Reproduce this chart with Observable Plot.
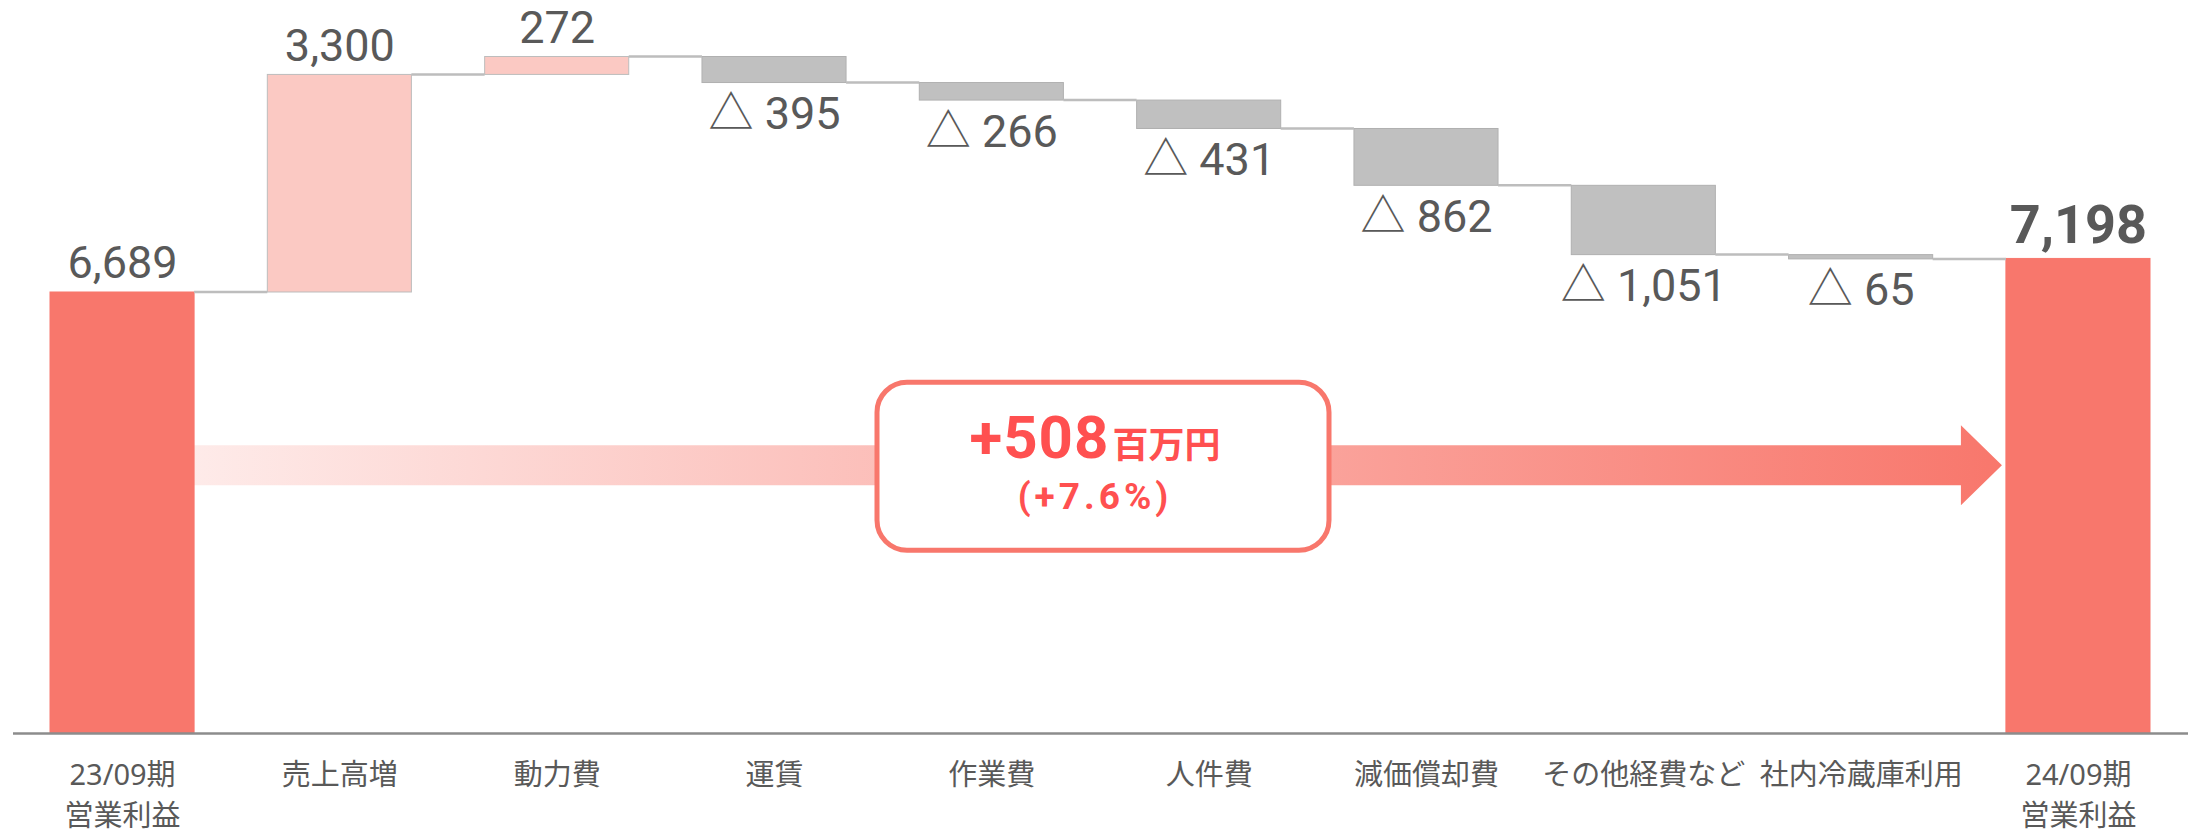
<!DOCTYPE html>
<html><head><meta charset="utf-8">
<script src="https://cdn.jsdelivr.net/npm/d3@7"></script>
<script src="https://cdn.jsdelivr.net/npm/@observablehq/plot@0.6"></script>
<style>
html,body{margin:0;padding:0;background:#fff;}
</style>
</head><body><div id="chart"></div>
<script>
// ---- data ----
const categories = ["23/09期\n営業利益","売上高増","動力費","運賃","作業費","人件費","減価償却費","その他経費など","社内冷蔵庫利用","24/09期\n営業利益"];
const kinds = ["total","up","up","down","down","down","down","down","down","total"];
const values = [6689, 3300, 272, -395, -266, -431, -862, -1051, -65, 7198];
const valueLabels = ["6,689","3,300","272","△ 395","△ 266","△ 431","△ 862","△ 1,051","△ 65","7,198"];
const changeAmount = "+508";
const changeUnit = "百万円";
const changePct = "(+7.6%)";
const arrowLevel = 4060; // y value (data units) where the change arrow runs

// ---- build waterfall rows ----
let run = 0;
const rows = categories.map((c, i) => {
  let y1, y2;
  if (kinds[i] === "total") { y1 = 0; y2 = values[i]; }
  else { y1 = run; y2 = run + values[i]; }
  run = y2;
  return {cat: c, kind: kinds[i], y1, y2, top: Math.max(y1, y2), bottom: Math.min(y1, y2), label: valueLabels[i], i};
});
const fillOf = {total: "#F8776C", up: "#FBC9C3", down: "#C0C0C0"};
const strokeOf = {total: "#F8776C", up: "#BDBDBD", down: "#B0B0B0"};

const FONT = "'Noto Sans','Noto Sans CJK JP',sans-serif";
const NUMFONT = "Roboto,'Noto Sans CJK JP',sans-serif";
const plot = Plot.plot({
  width: 2188, height: 830,
  marginLeft: 13, marginRight: 0, marginTop: 0, marginBottom: 97,
  x: {domain: categories, range: [50, 2150], paddingInner: 0.337, paddingOuter: 0, round: false, label: null},
  y: {domain: [0, 10000], range: [733, 73.7], axis: null},
  color: {type: "identity"},
  style: {fontFamily: FONT, background: "#fff", overflow: "visible"},
  marks: [
    Plot.barY(rows, {x: "cat", y1: "y1", y2: "y2", fill: d => fillOf[d.kind], stroke: d => strokeOf[d.kind], strokeWidth: 1}),
    Plot.ruleY([0], {stroke: "#8C8C8C", strokeWidth: 2.5}),
    Plot.text(rows.filter(d => d.kind === "up" || d.i === 0), {x: "cat", y: "top", text: "label", dy: -14, lineAnchor: "bottom", fontSize: 45, fontFamily: NUMFONT, fill: "#595959"}),
    Plot.text(rows.filter(d => d.kind === "down"), {x: "cat", y: "bottom", text: "label", dy: 14, lineAnchor: "top", fontSize: 45, fontFamily: NUMFONT, fill: "#595959"}),
    Plot.text(rows.filter(d => d.kind === "total" && d.i > 0), {x: "cat", y: "top", text: "label", dy: -16, lineAnchor: "bottom", fontSize: 54, fontWeight: "bold", fontFamily: NUMFONT, fill: "#595959"}),
    Plot.axisX({tickSize: 0, tickPadding: 22, fontSize: 29, fill: "#595959", lineHeight: 1.42, label: null})
  ]
});
document.getElementById("chart").appendChild(plot);

// ---- annotations drawn through the plot's scales ----
const xs = plot.scale("x"), ys = plot.scale("y");
const bw = xs.bandwidth;
const svg = d3.select(plot);
const conn = svg.append("g").attr("stroke", "#BDBDBD").attr("stroke-width", 2.5);
for (let i = 0; i < rows.length - 1; i++) {
  const yv = ys.apply(rows[i].y2);
  conn.append("line")
    .attr("x1", xs.apply(rows[i].cat) + bw).attr("x2", xs.apply(rows[i + 1].cat))
    .attr("y1", yv).attr("y2", yv);
}

// change arrow
const ax0 = xs.apply(categories[0]) + bw;
const axEnd = xs.apply(categories[categories.length - 1]) - 4;
const headLen = 41, bandHalf = 20, headHalf = 40;
const ay = ys.apply(arrowLevel);
const defs = svg.append("defs");
const grad = defs.append("linearGradient").attr("id", "arrowGrad")
  .attr("gradientUnits", "userSpaceOnUse").attr("x1", ax0).attr("x2", axEnd).attr("y1", 0).attr("y2", 0);
grad.append("stop").attr("offset", 0).attr("stop-color", "#F8776C").attr("stop-opacity", 0.15);
grad.append("stop").attr("offset", 1).attr("stop-color", "#F8776C").attr("stop-opacity", 1);
const hx = axEnd - headLen;
svg.append("path")
  .attr("d", `M${ax0},${ay - bandHalf}H${hx}V${ay - headHalf}L${axEnd},${ay}L${hx},${ay + headHalf}V${ay + bandHalf}H${ax0}Z`)
  .attr("fill", "url(#arrowGrad)");

// change box
const r = xs.range;
const cx = (r[0] + r[1]) / 2 + 3;
const boxW = 452, boxH = 168;
svg.append("rect")
  .attr("x", cx - boxW / 2).attr("y", ay - boxH / 2 + 1).attr("width", boxW).attr("height", boxH)
  .attr("rx", 30).attr("ry", 30)
  .attr("fill", "#fff").attr("stroke", "#F8776C").attr("stroke-width", 5);
const t1 = svg.append("text").attr("x", cx - 8).attr("y", ay - 7)
  .attr("text-anchor", "middle").attr("fill", "#FF5050").attr("font-weight", "bold").attr("font-family", "Roboto,sans-serif");
t1.append("tspan").attr("font-size", 60).attr("letter-spacing", 1).text(changeAmount);
t1.append("tspan").attr("font-size", 36).attr("dx", 3).attr("font-family", "'Noto Sans CJK JP',sans-serif").text(changeUnit);
svg.append("text").attr("x", cx - 8).attr("y", ay + 44)
  .attr("text-anchor", "middle").attr("fill", "#FF5050").attr("font-weight", "bold")
  .attr("font-family", "Roboto,sans-serif").attr("font-size", 37).attr("letter-spacing", 4).text(changePct);
</script>
</body></html>
